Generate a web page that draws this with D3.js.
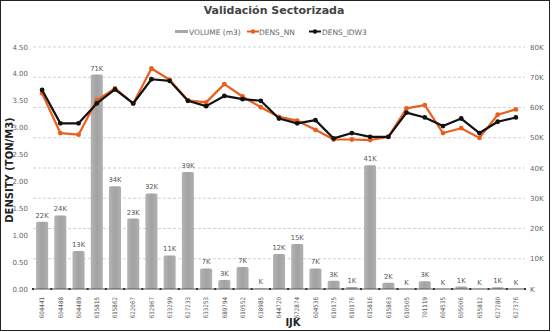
<!DOCTYPE html>
<html><head><meta charset="utf-8">
<script src="https://cdn.jsdelivr.net/npm/d3@7"></script>
<style>
html,body{margin:0;padding:0;background:#fff;}
text{font-family:"DejaVu Sans",Verdana,sans-serif;}
</style></head>
<body><svg id="c" width="552" height="332"></svg>
<script>
const categories = ["604441","604488","604489","615815","615862","622067","632967","633299","627233","633253","689794","610552","638985","644720","672874","604536","610175","610176","615816","615863","610505","701119","604535","605006","655812","627280","627376"];
const volume = [22200,24300,12600,70900,34000,23300,31600,11100,38700,6800,3000,7300,200,11600,14900,6800,2700,700,40900,2100,100,2600,100,800,100,600,100];
const densNN = [3.64,2.90,2.87,3.51,3.73,3.45,4.10,3.89,3.51,3.47,3.81,3.58,3.38,3.20,3.13,2.96,2.78,2.78,2.77,2.83,3.36,3.42,2.90,2.99,2.81,3.24,3.34];
const densIDW3 = [3.70,3.08,3.08,3.45,3.71,3.45,3.90,3.87,3.50,3.40,3.59,3.53,3.50,3.17,3.08,3.14,2.80,2.90,2.83,2.83,3.28,3.19,3.03,3.17,2.90,3.11,3.19];
const leftTicks = [0,0.5,1,1.5,2,2.5,3,3.5,4,4.5];
const rightTicks = [0,10000,20000,30000,40000,50000,60000,70000,80000];

const svg = d3.select("#c");
const W=552,H=332;
const m={l:33,r:27,t:47,b:43};
const x = d3.scaleBand().domain(categories).range([m.l, W-m.r]).paddingInner(0.34).paddingOuter(0.17);
const yL = d3.scaleLinear().domain([0,4.5]).range([H-m.b, m.t]);
const yR = d3.scaleLinear().domain([0,80000]).range([H-m.b, m.t]);
const kfmt = v => { const r=Math.round(v/1000); return (r===0?"":r)+"K"; };

// border
svg.append("rect").attr("x",0.5).attr("y",0.5).attr("width",W-3).attr("height",H-2)
  .attr("fill","none").attr("stroke","#222").attr("stroke-width",1);

// title
svg.append("text").attr("x",274).attr("y",14).attr("text-anchor","middle")
  .attr("font-size",11).attr("font-weight","bold").attr("fill","#444").text("Validación Sectorizada");

// gridlines from right axis
svg.append("g").selectAll("line").data(rightTicks.slice(1)).join("line")
  .attr("x1",m.l).attr("x2",W-m.r).attr("y1",d=>yR(d)).attr("y2",d=>yR(d))
  .attr("stroke","#c8c8c8").attr("stroke-dasharray","3,2").attr("stroke-width",0.8);

// gradient for bars
const defs = svg.append("defs");
const g = defs.append("linearGradient").attr("id","bg").attr("x1","0").attr("x2","1").attr("y1","0").attr("y2","0");
g.append("stop").attr("offset","0").attr("stop-color","#b4b4b4");
g.append("stop").attr("offset","0.5").attr("stop-color","#a2a2a2");
g.append("stop").attr("offset","1").attr("stop-color","#b0b0b0");

// bars
svg.append("g").selectAll("rect").data(categories).join("rect")
  .attr("x",d=>x(d)).attr("width",x.bandwidth())
  .attr("y",(d,i)=>yR(volume[i])).attr("height",(d,i)=>yR(0)-yR(volume[i]))
  .attr("rx",1.5).attr("fill","url(#bg)");

// bar labels
svg.append("g").selectAll("text").data(categories).join("text")
  .attr("x",d=>x(d)+x.bandwidth()/2).attr("y",(d,i)=>yR(volume[i])-4)
  .attr("text-anchor","middle").attr("font-size",6.8).attr("fill","#555")
  .text((d,i)=>kfmt(volume[i]));

// x axis
const xa = svg.append("g").attr("transform",`translate(0,${H-m.b})`);
xa.append("line").attr("x1",m.l).attr("x2",W-m.r).attr("stroke","#555").attr("stroke-width",1.2);
xa.selectAll("rect").data(d3.range(categories.length+1)).join("rect")
  .attr("x",i=>m.l+ (W-m.r-m.l)/categories.length*i - 1).attr("y",-1).attr("width",2).attr("height",2).attr("fill","#333");
xa.selectAll("text").data(categories).join("text")
  .attr("transform",d=>`translate(${x(d)+x.bandwidth()/2+2.2},8) rotate(-90)`)
  .attr("text-anchor","end").attr("font-size",6.2).attr("fill","#555")
  .style("font-family","'DejaVu Sans Condensed','DejaVu Sans',sans-serif").text(d=>d);

// left axis labels
svg.append("g").selectAll("text").data(leftTicks).join("text")
  .attr("x",28).attr("y",d=>yL(d)+2.5).attr("text-anchor","end")
  .attr("font-size",7).attr("fill","#666").text(d=>d3.format(".2f")(d));

// right axis labels
svg.append("g").selectAll("text").data(rightTicks).join("text")
  .attr("x",530).attr("y",d=>yR(d)+2.5).attr("text-anchor","start")
  .attr("font-size",7).attr("fill","#666").text(d=>kfmt(d));

// lines
const cx = (d)=>x(d)+x.bandwidth()/2;
function drawLine(vals,color){
  const line = d3.line().x((d,i)=>cx(categories[i])).y(d=>yL(d));
  svg.append("path").datum(vals).attr("d",line).attr("fill","none")
    .attr("stroke",color).attr("stroke-width",2.2).attr("stroke-linejoin","round");
  svg.append("g").selectAll("circle").data(vals).join("circle")
    .attr("cx",(d,i)=>cx(categories[i])).attr("cy",d=>yL(d)).attr("r",2.4).attr("fill",color);
}
drawLine(densNN,"#ec5e1e");
drawLine(densIDW3,"#111");

// axis titles
svg.append("text").attr("transform","translate(13,170) rotate(-90)").attr("text-anchor","middle")
  .attr("font-size",10).attr("font-weight","bold").attr("fill","#222").text("DENSITY (TON/M3)");
svg.append("text").attr("x",293).attr("y",326).attr("text-anchor","middle")
  .attr("font-size",10).attr("font-weight","bold").attr("fill","#222").text("IJK");

// legend
const lg = svg.append("g").attr("font-size",7.5).attr("fill","#666");
lg.append("rect").attr("x",175).attr("y",30).attr("width",13).attr("height",3).attr("fill","#a8a8a8");
lg.append("text").attr("x",189).attr("y",34.5).attr("fill","#666").text("VOLUME (m3)");
lg.append("line").attr("x1",247).attr("x2",259).attr("y1",31.5).attr("y2",31.5).attr("stroke","#ec5e1e").attr("stroke-width",2);
lg.append("circle").attr("cx",253).attr("cy",31.5).attr("r",2.2).attr("fill","#ec5e1e");
lg.append("text").attr("x",259).attr("y",34.5).attr("fill","#666").text("DENS_NN");
lg.append("line").attr("x1",309).attr("x2",321).attr("y1",31.5).attr("y2",31.5).attr("stroke","#111").attr("stroke-width",2);
lg.append("circle").attr("cx",315).attr("cy",31.5).attr("r",2.2).attr("fill","#111");
lg.append("text").attr("x",322).attr("y",34.5).attr("fill","#666").text("DENS_IDW3");
</script></body></html>
